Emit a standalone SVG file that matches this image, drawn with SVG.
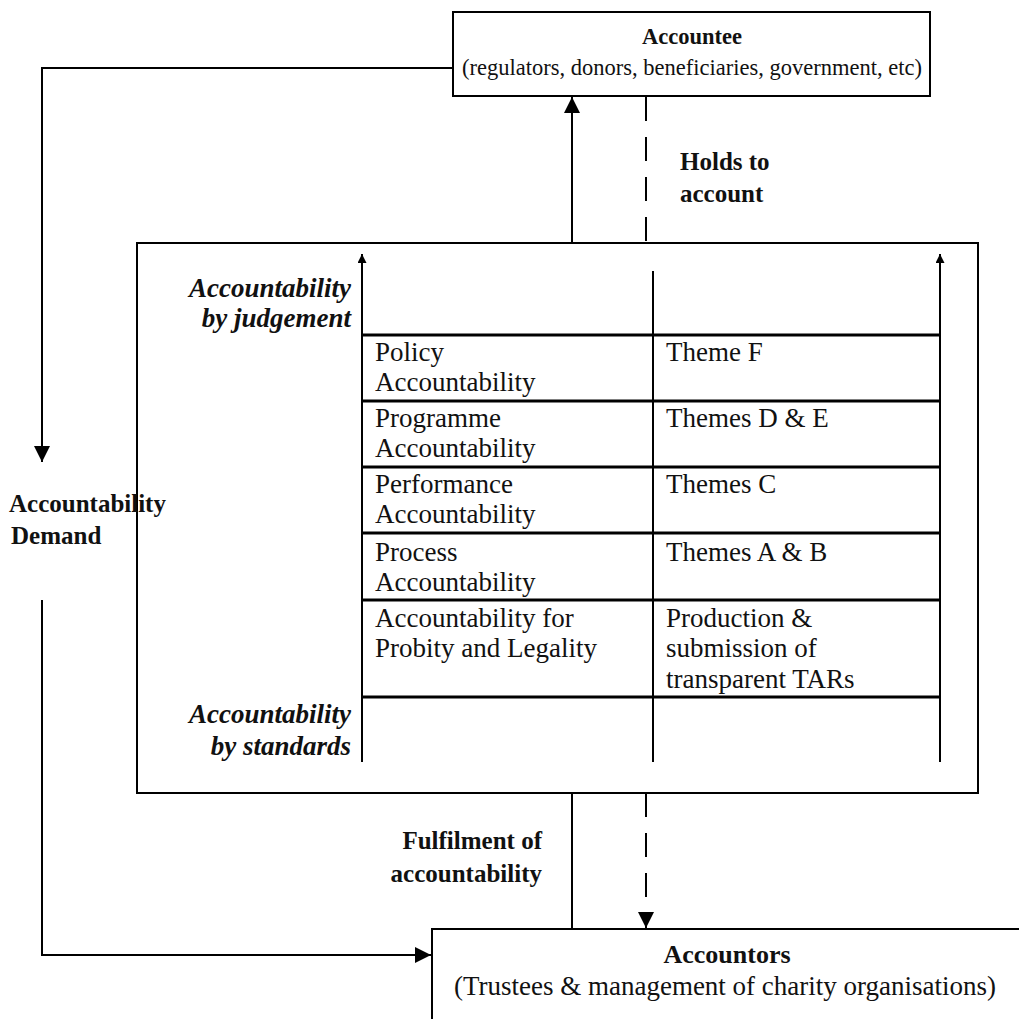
<svg xmlns="http://www.w3.org/2000/svg" width="1019" height="1019" viewBox="0 0 1019 1019">
<defs>
<style>
.box{fill:#fff;stroke:#000;stroke-width:2}
.ln{fill:none;stroke:#000;stroke-width:2}
.row{stroke:#000;stroke-width:3}
.dash{fill:none;stroke:#000;stroke-width:2;stroke-dasharray:24 16}
.t{font-family:"Liberation Serif","Times New Roman",serif;font-size:27px;fill:#111}
.s{font-size:22.5px}
.b{font-weight:bold}
.l{font-weight:bold;font-size:25px}
.i{font-style:italic;font-weight:bold}
</style>
<marker id="ah" viewBox="0 0 10 10" refX="10" refY="5" markerWidth="12" markerHeight="9" markerUnits="userSpaceOnUse" orient="auto">
<path d="M0,0 L10,5 L0,10 z" fill="#000"/>
</marker>
<marker id="ahs" viewBox="0 0 10 10" refX="10" refY="5" markerWidth="18" markerHeight="16" markerUnits="userSpaceOnUse" orient="auto">
<path d="M0,0 L10,5 L0,10 z" fill="#000"/>
</marker>
</defs>
<rect width="1019" height="1019" fill="#fff"/>
<g id="connectors">
<line class="ln" x1="572" y1="243" x2="572" y2="97" marker-end="url(#ahs)"/>
<line class="dash" x1="646" y1="97" x2="646" y2="243"/>
<polyline class="ln" points="453,68 42,68 42,462" marker-end="url(#ahs)"/>
<polyline class="ln" points="42,600 42,955 431,955" marker-end="url(#ahs)"/>
<line class="ln" x1="572" y1="793" x2="572" y2="929"/>
<line class="dash" x1="646" y1="793" x2="646" y2="928" marker-end="url(#ahs)"/>
</g>
<g id="accountee">
<rect class="box" x="453" y="12" width="477" height="84"/>
<text class="t s b" x="692" y="44" text-anchor="middle">Accountee</text>
<text class="t s" x="692" y="75" text-anchor="middle">(regulators, donors, beneficiaries, government, etc)</text>
</g>
<g id="holds-label">
<text class="t l" x="680" y="170">Holds to</text>
<text class="t l" x="680" y="202">account</text>
</g>
<g id="framework">
<rect class="box" x="137" y="243" width="841" height="550"/>
<line class="ln" x1="362" y1="762" x2="362" y2="254" marker-end="url(#ah)"/>
<line class="ln" x1="940" y1="762" x2="940" y2="254" marker-end="url(#ah)"/>
<line class="ln" x1="653" y1="271" x2="653" y2="762"/>
<line class="row" x1="362" y1="335" x2="940" y2="335"/>
<line class="row" x1="362" y1="401" x2="940" y2="401"/>
<line class="row" x1="362" y1="467" x2="940" y2="467"/>
<line class="row" x1="362" y1="533" x2="940" y2="533"/>
<line class="row" x1="362" y1="600" x2="940" y2="600"/>
<line class="row" x1="362" y1="697" x2="940" y2="697"/>
<text class="t i" x="351" y="297" text-anchor="end">Accountability</text>
<text class="t i" x="351" y="327" text-anchor="end">by judgement</text>
<text class="t i" x="351" y="723" text-anchor="end">Accountability</text>
<text class="t i" x="351" y="755" text-anchor="end">by standards</text>
<text class="t" x="375" y="361">Policy</text>
<text class="t" x="375" y="391">Accountability</text>
<text class="t" x="666" y="361">Theme F</text>
<text class="t" x="375" y="427">Programme</text>
<text class="t" x="375" y="457">Accountability</text>
<text class="t" x="666" y="427">Themes D &amp; E</text>
<text class="t" x="375" y="493">Performance</text>
<text class="t" x="375" y="523">Accountability</text>
<text class="t" x="666" y="493">Themes C</text>
<text class="t" x="375" y="561">Process</text>
<text class="t" x="375" y="591">Accountability</text>
<text class="t" x="666" y="561">Themes A &amp; B</text>
<text class="t" x="375" y="627">Accountability for</text>
<text class="t" x="375" y="657">Probity and Legality</text>
<text class="t" x="666" y="627">Production &amp;</text>
<text class="t" x="666" y="657">submission of</text>
<text class="t" x="666" y="688">transparent TARs</text>
</g>
<g id="demand-label">
<text class="t l" x="9" y="512">Accountability</text>
<text class="t l" x="11" y="544">Demand</text>
</g>
<g id="fulfilment-label">
<text class="t l" x="542" y="849" text-anchor="end">Fulfilment of</text>
<text class="t l" x="542" y="882" text-anchor="end">accountability</text>
</g>
<g id="accountors">
<rect class="box" x="432" y="929" width="600" height="100"/>
<text class="t b" x="727" y="963" text-anchor="middle" style="font-size:26px">Accountors</text>
<text class="t" x="725" y="995" text-anchor="middle">(Trustees &amp; management of charity organisations)</text>
</g>
</svg>
